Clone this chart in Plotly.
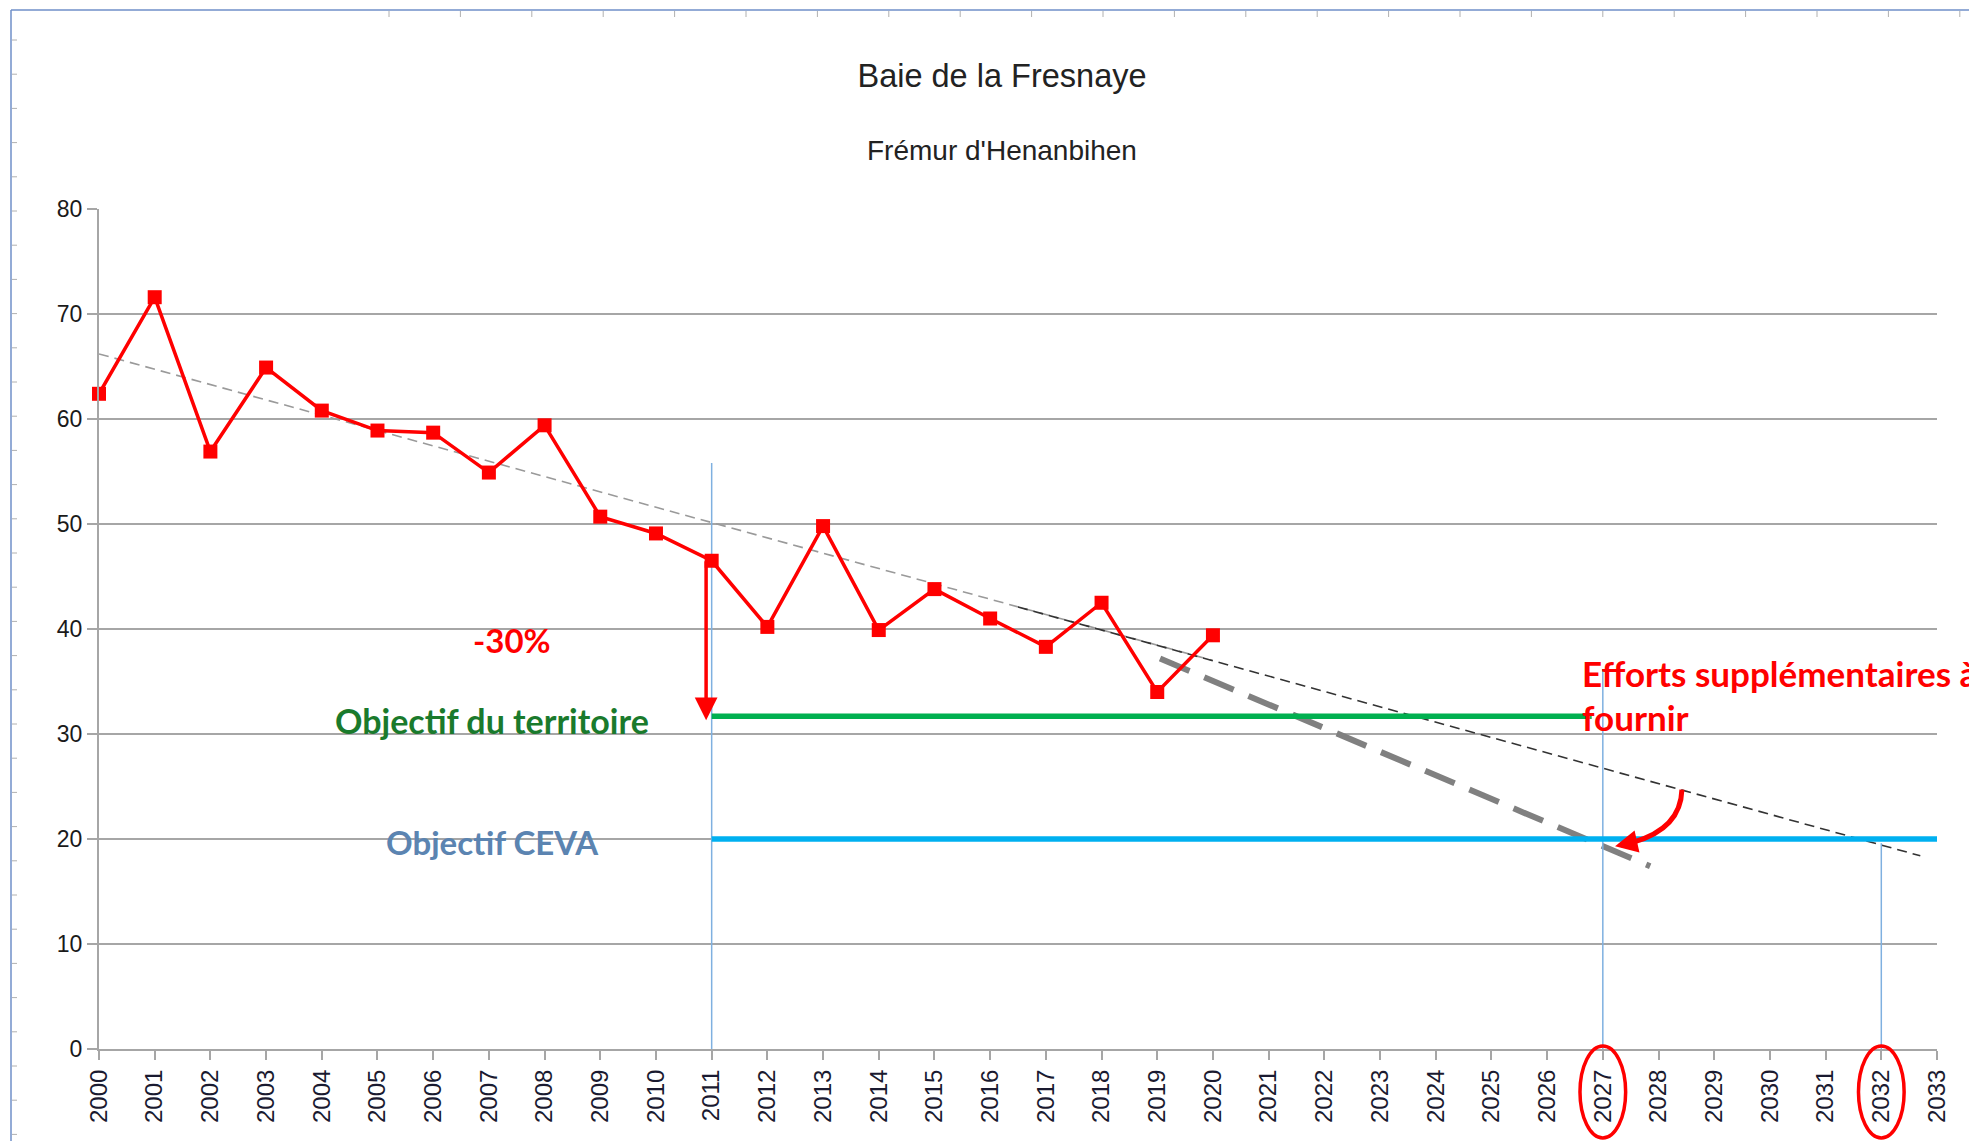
import plotly.graph_objects as go

# --- data ---
years = list(range(2000, 2021))
values = [62.4, 71.6, 56.9, 64.9, 60.8, 58.9, 58.7, 54.9, 59.4, 50.7,
          49.1, 46.5, 40.2, 49.8, 39.9, 43.8, 41.0, 38.3, 42.5, 34.0, 39.4]

trend_gray_x = [2000, 2020]
trend_gray_y = [66.2, 37.0]
trend_black_x = [2016.5, 2032.7]
trend_black_y = [42.1, 18.4]

effort_x = [2019.05, 2027.85]
effort_y = [37.2, 17.4]

objectif_territoire_x = [2011, 2026.8]
objectif_territoire_y = [31.7, 31.7]
objectif_ceva_x = [2011, 2033]
objectif_ceva_y = [20, 20]

vlines_x = [2011, 2027, 2032]
vlines_top = [55.8, 36.2, 19.6]

circled_years = [2027, 2032]

# page body adds an 8px offset; layout numbers below are screen pixels
OFF = 8
W, H = 1977, 1141
L, R, T, B = 99 - OFF, 40 + OFF, 209 - OFF, 92 + OFF


def px_x(px):
    return (px - OFF - L) / (W - L - R)


def px_y(py):
    return (H - B - (py - OFF)) / (H - T - B)


fig = go.Figure()

fig.add_trace(go.Scatter(x=trend_gray_x, y=trend_gray_y, mode="lines",
                         line=dict(color="#9a9a9a", width=1.6, dash="10px,6px"),
                         hoverinfo="skip"))
fig.add_trace(go.Scatter(x=trend_black_x, y=trend_black_y, mode="lines",
                         line=dict(color="#333333", width=1.6, dash="10px,6px"),
                         hoverinfo="skip"))
fig.add_trace(go.Scatter(x=effort_x, y=effort_y, mode="lines",
                         line=dict(color="#808080", width=6, dash="32px,16px"),
                         hoverinfo="skip"))

for x, top in zip(vlines_x, vlines_top):
    fig.add_trace(go.Scatter(x=[x, x], y=[0, top], mode="lines",
                             line=dict(color="#7fb0e0", width=1.5), hoverinfo="skip"))

fig.add_trace(go.Scatter(x=objectif_territoire_x, y=objectif_territoire_y, mode="lines",
                         line=dict(color="#00b050", width=5.5)))
fig.add_trace(go.Scatter(x=objectif_ceva_x, y=objectif_ceva_y, mode="lines",
                         line=dict(color="#00b0f0", width=5.5)))

fig.add_trace(go.Scatter(x=years, y=values, mode="lines+markers", cliponaxis=False,
                         line=dict(color="#ff0000", width=3.5),
                         marker=dict(symbol="square", size=14, color="#ff0000")))

label_font = "Lato, Open Sans, sans-serif"
annotations = [
    dict(x=px_x(1002), y=px_y(150), xref="paper", yref="paper", text="Frémur d'Henanbihen",
         showarrow=False, font=dict(family="Liberation Sans, Arial", size=28, color="#222222"),
         xanchor="center", yanchor="middle"),
    dict(x=2007.41, y=39.0, text="<b>-30%</b>", showarrow=False,
         font=dict(family=label_font, size=33, color="#ff0000")),
    dict(x=2007.06, y=31.3, text="<b>Objectif du territoire</b>", showarrow=False,
         font=dict(family=label_font, size=34, color="#1a7a2c")),
    dict(x=2007.06, y=19.7, text="<b>Objectif CEVA</b>", showarrow=False,
         font=dict(family=label_font, size=33, color="#5b84b1")),
    dict(x=2026.59, y=35.8, text="<b>Efforts supplémentaires à</b>", showarrow=False,
         xanchor="left", font=dict(family=label_font, size=35, color="#ff0000")),
    dict(x=2026.59, y=31.6, text="<b>fournir</b>", showarrow=False,
         xanchor="left", font=dict(family=label_font, size=35, color="#ff0000")),
    # vertical -30% arrow
    dict(x=2010.9, y=31.3, ax=2010.9, ay=46.6, axref="x", ayref="y", text="",
         showarrow=True, arrowhead=2, arrowsize=1.3, arrowwidth=3.5, arrowcolor="#ff0000"),
    # head of the curved arrow
    dict(x=2027.22, y=19.3, ax=2027.6, ay=19.75, axref="x", ayref="y", text="",
         showarrow=True, arrowhead=2, arrowsize=0.9, arrowwidth=5, arrowcolor="#ff0000"),
]

shapes = [
    # curved arrow body
    dict(type="path", xref="x", yref="y",
         path="M 2028.42,24.7 Q 2028.4,21.0 2027.55,19.7",
         line=dict(color="#ff0000", width=5)),
]
for yr in circled_years:
    shapes.append(dict(type="circle", xref="x", yref="paper",
                       x0=yr - 0.41, x1=yr + 0.41, y0=px_y(1138), y1=px_y(1046),
                       line=dict(color="#ff0000", width=3.5)))

# window frame around the chart
frame_color = "#6f8fc8"
shapes.append(dict(type="line", xref="paper", yref="paper", x0=px_x(11), x1=px_x(11),
                   y0=px_y(10), y1=px_y(H + 20), line=dict(color=frame_color, width=1.5)))
shapes.append(dict(type="line", xref="paper", yref="paper", x0=px_x(11), x1=px_x(1970),
                   y0=px_y(10), y1=px_y(10), line=dict(color=frame_color, width=1.5)))
shapes.append(dict(type="line", xref="paper", yref="paper", x0=px_x(1970), x1=px_x(1970),
                   y0=px_y(10), y1=px_y(H + 20), line=dict(color=frame_color, width=1.5)))
py = 40
while py < H:
    shapes.append(dict(type="line", xref="paper", yref="paper", x0=px_x(12), x1=px_x(17),
                       y0=px_y(py), y1=px_y(py), line=dict(color="#b0b0b0", width=1)))
    py += 34.2
pxx = 389
while pxx < 1968:
    shapes.append(dict(type="line", xref="paper", yref="paper", x0=px_x(pxx), x1=px_x(pxx),
                       y0=px_y(11), y1=px_y(17), line=dict(color="#b0b0b0", width=1)))
    pxx += 71.4

fig.update_layout(
    width=W, height=H,
    margin=dict(l=L, r=R, t=T, b=B),
    paper_bgcolor="white", plot_bgcolor="white",
    showlegend=False,
    title=dict(text="Baie de la Fresnaye", x=(1002 - OFF) / W, xanchor="center",
               y=1 - (76 - OFF) / H, yref="container", yanchor="middle",
               font=dict(family="Liberation Sans, Arial", size=32.5, color="#222222")),
    annotations=annotations,
    shapes=shapes,
)

fig.update_xaxes(range=[2000, 2033], dtick=1, tick0=2000, tickangle=-90,
                 showgrid=False, zeroline=False, showline=True, linecolor="#a6a6a6", linewidth=2,
                 ticks="outside", ticklen=9, tickcolor="#a6a6a6", tickwidth=2,
                 tickfont=dict(family="Liberation Sans, Arial", size=24, color="#1a1a30"))
fig.update_yaxes(range=[0, 80], dtick=10, showgrid=True, gridcolor="#a6a6a6", gridwidth=2,
                 zeroline=False, showline=True, linecolor="#a6a6a6", linewidth=2,
                 ticks="outside", ticklen=10, tickcolor="#a6a6a6", tickwidth=2,
                 tickfont=dict(family="Liberation Sans, Arial", size=23, color="#1a1a1a"))

fig.write_html("out.html")
